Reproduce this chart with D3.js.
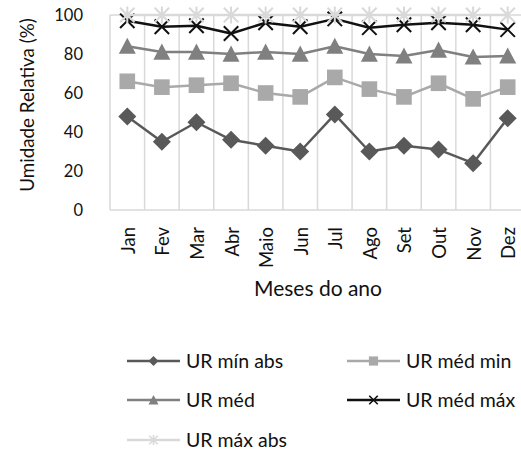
<!DOCTYPE html>
<html>
<head>
<meta charset="utf-8">
<script src="https://cdn.jsdelivr.net/npm/d3@7"></script>
<style>
  html, body { margin: 0; padding: 0; background: #fff; }
  svg { display: block; font-family: Lato, "Open Sans", sans-serif; }
</style>
</head>
<body>
<svg id="chart" width="521" height="452"></svg>
<script>
// Monthly relative humidity (%)
const months = ["Jan", "Fev", "Mar", "Abr", "Maio", "Jun", "Jul", "Ago", "Set", "Out", "Nov", "Dez"];
const urMinAbs = [48, 35, 45, 36, 33, 30, 49, 30, 33, 31, 24, 47];
const urMedMin = [66, 63, 64, 65, 60, 58, 68, 62, 58, 65, 57, 63];
const urMed    = [84, 81, 81, 80, 81, 80, 84, 80, 79, 82, 78.5, 79];
const urMedMax = [97, 94, 94.5, 90.5, 96, 94, 98, 93.5, 95, 96, 95, 92.5];
const urMaxAbs = [100, 100, 100, 100, 100, 100, 100, 100, 100, 100, 100, 100];
const yTicks = [0, 20, 40, 60, 80, 100];

const seriesNames = ["UR mín abs", "UR méd min", "UR méd", "UR méd máx", "UR máx abs"];
const seriesValues = [urMinAbs, urMedMin, urMed, urMedMax, urMaxAbs];
const seriesColors = ["#595959", "#a9a9a9", "#808080", "#111111", "#d9d9d9"];
const seriesMarkers = ["diamond", "square", "triangle", "cross", "star"];

const svg = d3.select("#chart");
const textColor = "#111111";
const gridColor = "#d9d9d9";

const x = d3.scaleBand().domain(months).range([110, 525]).padding(0);
const y = d3.scaleLinear().domain([0, 100]).range([210, 15]);

// vertical category gridlines (band boundaries)
const g = svg.append("g");
const bounds = months.map(m => x(m)).concat([x.range()[1]]);
g.selectAll("line.vgrid").data(bounds).join("line")
  .attr("class", "vgrid")
  .attr("x1", d => d).attr("x2", d => d)
  .attr("y1", y(100)).attr("y2", y(0))
  .attr("stroke", gridColor).attr("stroke-width", 1.5);

// top gridline and baseline
g.append("line").attr("x1", x.range()[0]).attr("x2", 521)
  .attr("y1", y(100)).attr("y2", y(100))
  .attr("stroke", gridColor).attr("stroke-width", 1.5);
g.append("line").attr("x1", x.range()[0]).attr("x2", 521)
  .attr("y1", y(0)).attr("y2", y(0))
  .attr("stroke", gridColor).attr("stroke-width", 1.5);

// y tick labels
svg.append("g").selectAll("text").data(yTicks).join("text")
  .attr("x", 83).attr("y", d => y(d))
  .attr("dy", "0.36em")
  .attr("text-anchor", "end")
  .attr("font-size", 16.5)
  .attr("fill", textColor)
  .text(d => d);

// y axis title
svg.append("text")
  .attr("transform", "translate(34,105) rotate(-90)")
  .attr("text-anchor", "middle")
  .attr("font-size", 18.8)
  .attr("fill", textColor)
  .text("Umidade Relativa (%)");

// x tick labels (rotated)
svg.append("g").selectAll("text").data(months).join("text")
  .attr("transform", d => `translate(${x(d) + x.bandwidth() / 2 + 7.5},227) rotate(-90)`)
  .attr("text-anchor", "end")
  .attr("font-size", 18.5)
  .attr("fill", textColor)
  .text(d => d);

// x axis title
svg.append("text")
  .attr("x", 318).attr("y", 296)
  .attr("text-anchor", "middle")
  .attr("font-size", 21)
  .attr("fill", textColor)
  .text("Meses do ano");

// marker drawing helper; s = nominal marker size in px
function drawMarker(sel, type, color, s) {
  const h = s / 2;
  if (type === "diamond") {
    sel.append("path")
      .attr("d", `M0,${-h}L${h},0L0,${h}L${-h},0Z`)
      .attr("fill", color);
  } else if (type === "square") {
    const a = h * 0.92;
    sel.append("path")
      .attr("d", `M${-a},${-a}H${a}V${a}H${-a}Z`)
      .attr("fill", color);
  } else if (type === "triangle") {
    sel.append("path")
      .attr("d", `M0,${-h}L${h},${h * 0.9}L${-h},${h * 0.9}Z`)
      .attr("fill", color);
  } else if (type === "cross") {
    const a = h * 0.85;
    sel.append("path")
      .attr("d", `M${-a},${-a}L${a},${a}M${-a},${a}L${a},${-a}`)
      .attr("stroke", color).attr("stroke-width", s > 12 ? 2 : 1.6).attr("fill", "none");
  } else if (type === "star") {
    const a = h * 0.85;
    sel.append("path")
      .attr("d", `M${-a},${-a}L${a},${a}M${-a},${a}L${a},${-a}M0,${-h}L0,${h}`)
      .attr("stroke", color).attr("stroke-width", s > 12 ? 2 : 1.6).attr("fill", "none");
  }
}

const line = d3.line()
  .x((d, i) => x(months[i]) + x.bandwidth() / 2)
  .y(d => y(d));

const markerSizes = [18, 17, 17, 17, 17];

seriesValues.forEach((vals, si) => {
  const sg = svg.append("g");
  sg.append("path")
    .datum(vals)
    .attr("d", line)
    .attr("fill", "none")
    .attr("stroke", seriesColors[si])
    .attr("stroke-width", 2.5)
    .attr("stroke-linejoin", "round");
  sg.selectAll("g.mk").data(vals).join("g")
    .attr("class", "mk")
    .attr("transform", (d, i) => `translate(${x(months[i]) + x.bandwidth() / 2},${y(d)})`)
    .each(function () {
      drawMarker(d3.select(this), seriesMarkers[si], seriesColors[si], markerSizes[si]);
    });
});

// legend
const legendPos = [
  [127, 361], [347, 361],
  [127, 400], [347, 400],
  [127, 440]
];
seriesNames.forEach((name, si) => {
  const [lx, ly] = legendPos[si];
  const lg = svg.append("g").attr("transform", `translate(${lx},${ly})`);
  lg.append("line").attr("x1", 0).attr("x2", 53).attr("y1", 0).attr("y2", 0)
    .attr("stroke", seriesColors[si]).attr("stroke-width", 2.5);
  const mk = lg.append("g").attr("transform", "translate(26.5,0)");
  drawMarker(mk, seriesMarkers[si], seriesColors[si], 10);
  lg.append("text")
    .attr("x", 59).attr("y", 0).attr("dy", "0.36em")
    .attr("font-size", 19.5)
    .attr("fill", textColor)
    .text(name);
});
</script>
</body>
</html>
